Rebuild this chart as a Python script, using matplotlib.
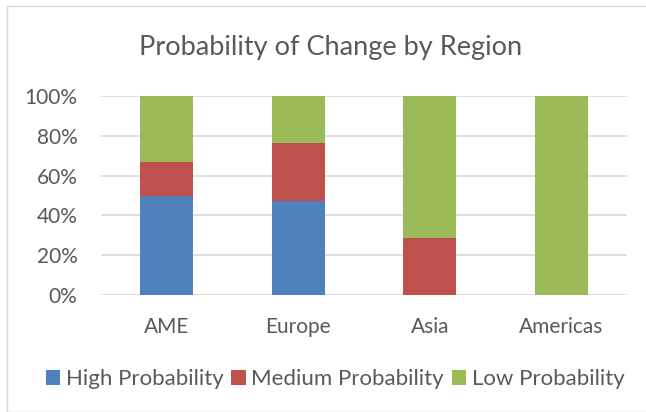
import matplotlib.pyplot as plt
from matplotlib.patches import Rectangle
from matplotlib.ticker import PercentFormatter

plt.rcParams['font.family'] = ['Lato', 'DejaVu Sans']

regions = ['AME', 'Europe', 'Asia', 'Americas']
high = [50.0, 47.06, 0.0, 0.0]
medium = [16.67, 29.41, 28.57, 0.0]
low = [33.33, 23.53, 71.43, 100.0]

series = [('High Probability', high, '#4F81BD'),
          ('Medium Probability', medium, '#C0504D'),
          ('Low Probability', low, '#9BBB59')]

text_col = '#595959'

fig = plt.figure(figsize=(6.46, 4.12), dpi=100)
ax = fig.add_axes([101 / 646, 1 - 295 / 412, 526 / 646, 199 / 412])

x = range(len(regions))
bottom = [0.0] * len(regions)
for name, vals, col in series:
    ax.bar(x, vals, 0.4, bottom=bottom, color=col, label=name, zorder=3)
    bottom = [b + v for b, v in zip(bottom, vals)]

ax.set_xlim(-0.5, 3.5)
ax.set_ylim(0, 100)
ax.set_yticks(range(0, 101, 20))
ax.yaxis.set_major_formatter(PercentFormatter(decimals=0))
ax.set_xticks(list(x))
ax.set_xticklabels(regions)
ax.grid(axis='y', color='#D9D9D9', lw=1.2, zorder=0)
ax.set_axisbelow(True)
for s in ax.spines.values():
    s.set_visible(False)
ax.tick_params(length=0, labelsize=15, colors=text_col)
ax.tick_params(axis='x', pad=16)
ax.tick_params(axis='y', pad=17)

fig.text(331 / 646, 1 - 47 / 412, 'Probability of Change by Region',
         ha='center', va='center', fontsize=19.5, color=text_col)

ax.legend(loc='center', bbox_to_anchor=(335 / 646, 1 - 379 / 412),
          bbox_transform=fig.transFigure, ncol=3, frameon=False,
          fontsize=16, labelcolor=text_col, handlelength=0.65,
          handleheight=0.65, handletextpad=0.25, columnspacing=0.35)

fig.patches.append(Rectangle((7 / 646, 0), 1, 1 - 6 / 412, transform=fig.transFigure,
                             fill=False, edgecolor='#D9D9D9', lw=1))

fig.savefig('out.png', dpi=100, facecolor='white')
